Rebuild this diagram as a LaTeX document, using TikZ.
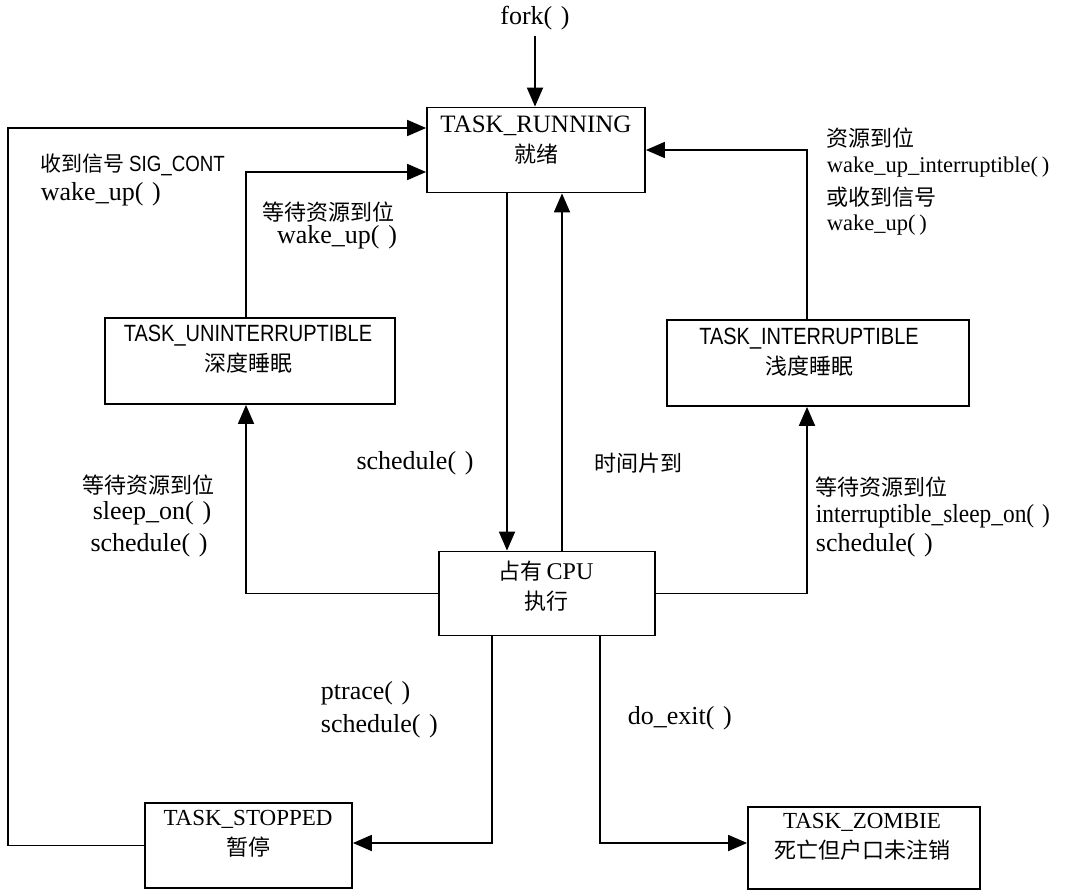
\documentclass[tikz,border=0pt]{standalone}
\usepackage{fontspec}
\usepackage{graphicx}
\setmainfont{Liberation Serif}
\newfontfamily\cjkf{Noto Sans CJK SC}
\newfontfamily\capf[FakeStretch=0.85]{Liberation Sans}
\usetikzlibrary{arrows.meta,calc}
\newcommand\zh[1]{{\cjkf\fontsize{22}{30}\selectfont #1}}
\newcommand\zhs[1]{{\cjkf\fontsize{21}{30}\selectfont #1}}
\begin{document}
\begin{tikzpicture}[x=1pt,y=-1pt,
  line width=1.8pt,
  >={Triangle[length=19pt,width=16pt]},
  box/.style={draw,rectangle,inner sep=0pt,line width=1.8pt},
  boxtext/.style={inner sep=0pt,align=center,font=\fontsize{24}{30}\selectfont},
  lbl/.style={inner sep=0pt,font=\fontsize{26}{31}\selectfont},
  lbls/.style={inner sep=0pt,font=\fontsize{22.5}{30}\selectfont}]
\useasboundingbox (0,0) rectangle (1073,891);

% boxes
\node[box,minimum width=218pt,minimum height=85pt] (run) at (536,150) {};
\node[box,minimum width=290pt,minimum height=86pt] (unint) at (250,361) {};
\node[box,minimum width=302pt,minimum height=86pt] (int) at (818,363) {};
\node[box,minimum width=216pt,minimum height=84pt] (cpu) at (547,593.5) {};
\node[box,minimum width=207pt,minimum height=85pt] (stop) at (248.5,845.5) {};
\node[box,minimum width=232pt,minimum height=82pt] (zomb) at (864,848) {};

% box texts
\node[boxtext] (runT) at (536,140) {{\fontsize{25}{30}\selectfont TASK\_RUNNING}\\\zh{就绪}};
\node[boxtext] (unintT) at (248,349) {{\capf\fontsize{23.5}{30}\selectfont TASK\_UNINTERRUPTIBLE}\\\zh{深度睡眠}};
\node[boxtext] (intT) at (809,352) {{\capf\fontsize{23.5}{30}\selectfont TASK\_INTERRUPTIBLE}\\\zh{浅度睡眠}};
\node[boxtext] (cpuT) at (546,586) {\zh{占有}\,CPU\\\zh{执行}};
\node[boxtext] (stopT) at (248,834) {{\fontsize{23}{30}\selectfont TASK\_STOPPED}\\\zh{暂停}};
\node[boxtext] (zombT) at (862,837) {{\fontsize{23}{30}\selectfont TASK\_ZOMBIE}\\\zh{死亡但户口未注销}};

% labels
\node[lbl] (forkT) at (535,18) {fork(\,\,)};
\node[lbl,anchor=west] (l1a) at (40,165) {\zhs{收到信号}\,{\capf\fontsize{22}{30}\selectfont SIG\_CONT}};
\node[lbl,anchor=west] (l1b) at (40,194) {wake\_up(\,\,)};
\node[lbl] (l2a) at (328,212) {\zh{等待资源到位}};
\node[lbl] (l2b) at (337,237) {wake\_up(\,\,)};
\node[lbls,anchor=west] (l3a) at (826,138) {\zh{资源到位}};
\node[lbls,anchor=west] (l3b) at (826,167) {wake\_up\_interruptible(\,)};
\node[lbls,anchor=west] (l3c) at (826,197) {\zh{或收到信号}};
\node[lbls,anchor=west] (l3d) at (826,225) {wake\_up(\,)};
\node[lbl] (l4) at (415,463) {schedule(\,\,)};
\node[lbl] (l5) at (638,463) {\zh{时间片到}};
\node[lbl] (l6a) at (148,485) {\zh{等待资源到位}};
\node[lbl] (l6b) at (152,513) {sleep\_on(\,\,)};
\node[lbl] (l6c) at (149,545) {schedule(\,\,)};
\node[lbl,anchor=west] (l7a) at (815,487) {\zh{等待资源到位}};
\node[lbl,anchor=west] (l7b) at (815,516) {\scalebox{0.9}[1]{interruptible\_sleep\_on(\,\,)}};
\node[lbl,anchor=west] (l7c) at (815,545) {schedule(\,\,)};
\node[lbl,anchor=west] (l8a) at (320,693) {ptrace(\,\,)};
\node[lbl,anchor=west] (l8b) at (320,726) {schedule(\,\,)};
\node[lbl,anchor=west] (l9) at (627,718) {do\_exit(\,\,)};

% coordinates
\coordinate (fk) at (535,36);
\coordinate (lx) at (8,128);
\coordinate (a2) at (246,172);
\coordinate (d1) at (507,0);
\coordinate (u1) at (562,0);
\coordinate (r1) at (807,0);
\coordinate (b1) at (492,843);
\coordinate (b2) at (600,843);

% connectors
\draw[->] (fk) -- (fk |- run.north);
\draw[->] (stop.west) -- (stop.west -| lx) -- (lx) -- (run.west |- lx);
\draw[->] (a2 |- unint.north) -- (a2) -- (run.west |- a2);
\draw[->] (cpu.west) -| (a2 |- unint.south);
\draw[->] (run.south -| d1) -- (cpu.north -| d1);
\draw[->] (cpu.north -| u1) -- (run.south -| u1);
\draw[->] (cpu.east) -| (r1 |- int.south);
\draw[->] (r1 |- int.north) |- (run.east);
\draw[->] (cpu.south -| b1) |- (stop.east |- b1);
\draw[->] (cpu.south -| b2) |- (zomb.west |- b2);
\end{tikzpicture}
\end{document}
